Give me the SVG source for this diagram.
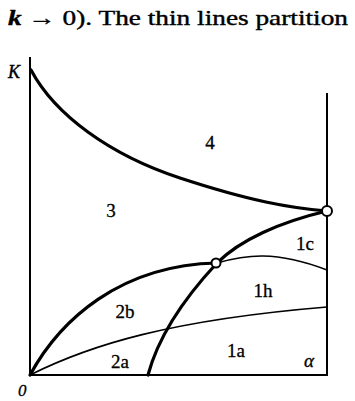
<svg xmlns="http://www.w3.org/2000/svg" width="355" height="401" viewBox="0 0 355 401">
<style>
.t{font-family:"Liberation Serif","DejaVu Serif",serif;fill:#000}
.lab{font-family:"Liberation Serif","DejaVu Serif",serif;font-size:19px;fill:#000;stroke:#000;stroke-width:0.3;text-anchor:middle}
.ax{stroke:#000;stroke-width:2;fill:none}
.bold{stroke:#000;stroke-width:3.2;fill:none;stroke-linecap:round}
.thin{stroke:#000;stroke-width:1.6;fill:none}
.pt{fill:#fff;stroke:#000;stroke-width:2}
</style>
<rect width="355" height="401" fill="#fff"/>
<text class="t" x="8" y="25" font-size="22" stroke="#000" stroke-width="0.4" textLength="340" lengthAdjust="spacingAndGlyphs"><tspan font-style="italic" font-weight="bold">k</tspan> → 0). The thin lines partition</text>
<g id="axes">
<path class="ax" d="M30,57 L30,376"/>
<path class="ax" d="M29,375 L328,375"/>
<path class="ax" d="M327,93 L327,376"/>
</g>
<g id="connectors">
<path class="bold" d="M31,70 C55,115 110,155 180,178 C250,201 290,208 327,211"/>
<path class="bold" d="M327,211 C280,222 240,240 217,263 C190,292 160,330 148,375"/>
<path class="bold" d="M30,375 C60,320 120,265 217,263"/>
<path class="thin" d="M30,375 C90,345 170,320 327,307"/>
<path class="thin" d="M217,263 C245,255 275,250 327,270"/>
</g>
<g id="node-point-top"><circle class="pt" cx="327" cy="211" r="5"/></g>
<g id="node-point-mid"><circle class="pt" cx="216" cy="263" r="4.5"/></g>
<g id="labels">
<text class="t" x="8" y="78" font-size="18" font-style="italic" stroke="#000" stroke-width="0.4">K</text>
<text class="t" x="18" y="396" font-size="17" font-style="italic" stroke="#000" stroke-width="0.3">0</text>
<text class="lab" x="210" y="149">4</text>
<text class="lab" x="111" y="217">3</text>
<text class="lab" x="125" y="318">2b</text>
<text class="lab" x="120" y="368">2a</text>
<text class="lab" x="305" y="250">1c</text>
<text class="lab" x="263" y="297">1h</text>
<text class="lab" x="236" y="357">1a</text>
<text class="lab" x="309" y="367" font-style="italic">α</text>
</g>
</svg>
